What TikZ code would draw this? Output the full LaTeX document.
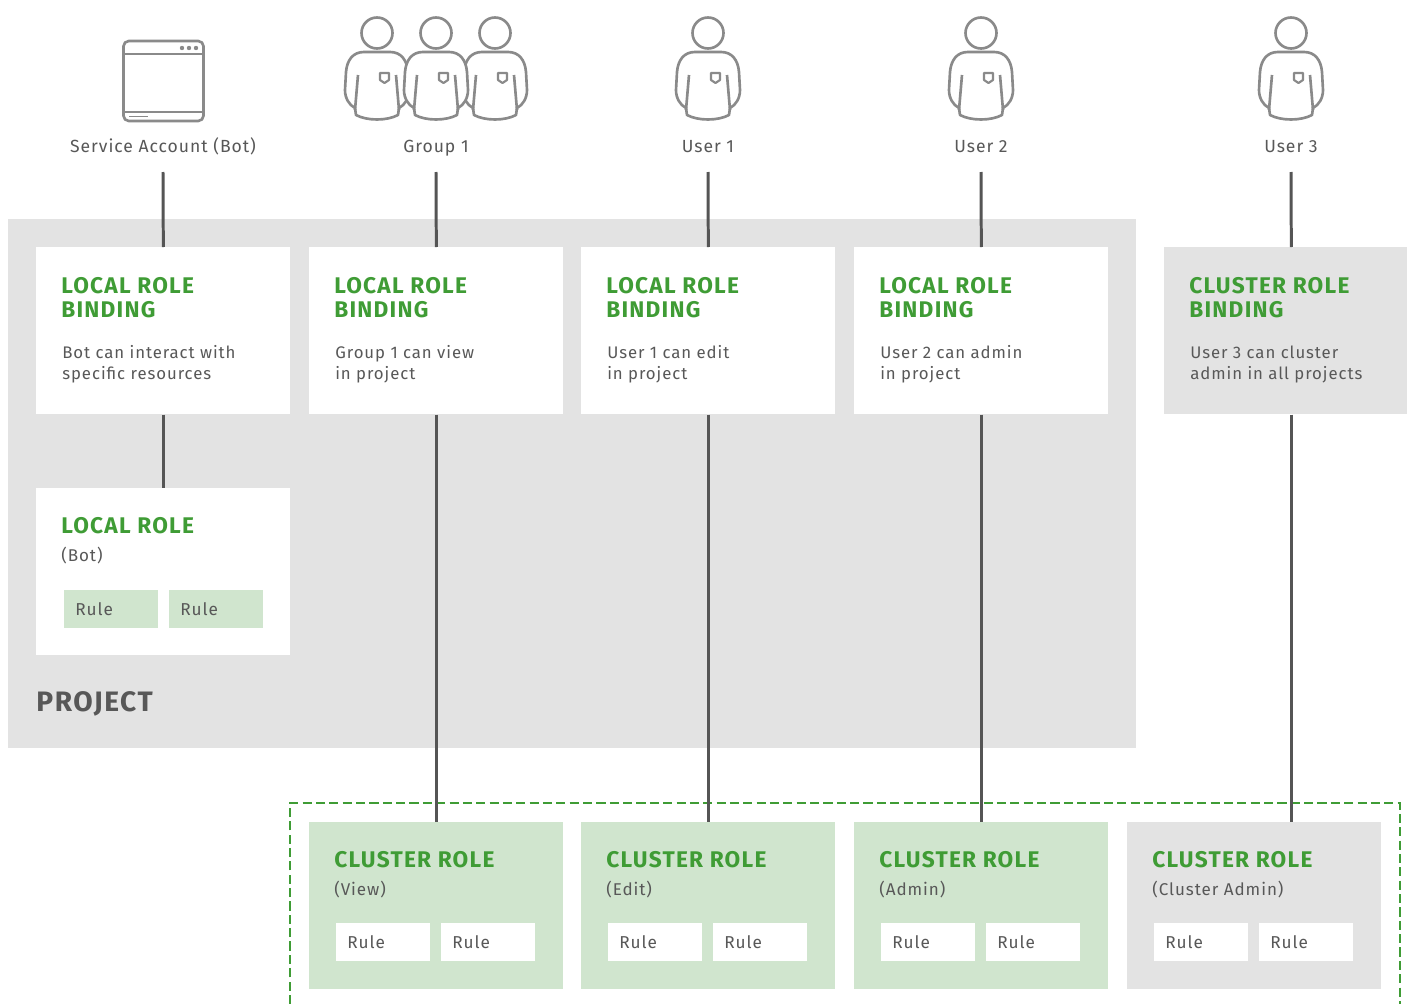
\documentclass[tikz,border=0pt]{standalone}
\usepackage{fontspec}
\setmainfont[LetterSpace=5.5]{Fira Sans}
\usepackage{tikz}
\definecolor{panelgray}{HTML}{E3E3E3}
\definecolor{palegreen}{HTML}{D0E5CE}
\definecolor{rolegreen}{HTML}{3F9C35}
\definecolor{textgray}{HTML}{585858}
\definecolor{linegray}{HTML}{555555}
\definecolor{icongray}{HTML}{8A8A8A}
\tikzset{
  panel/.style={anchor=north west, inner sep=0pt, minimum width=5.08cm, minimum height=3.34cm},
  rulebox/.style={anchor=north west, inner xsep=0.22cm, inner ysep=0pt, text width=1.44cm, align=left,
    minimum height=0.76cm, text=textgray, font=\fontsize{9.8}{12}\selectfont},
  head/.style={anchor=base west, inner sep=0pt, text=rolegreen, font=\fontsize{12.9}{14}\selectfont\bfseries},
  body/.style={anchor=base west, inner sep=0pt, text=textgray, font=\fontsize{9.7}{12}\selectfont},
  who/.style={anchor=base, inner sep=0pt, text=textgray, font=\fontsize{10}{12}\selectfont},
  say/.style={anchor=north west, inner sep=0pt, align=left, text=textgray, font=\fontsize{9.55}{11.9}\selectfont},
  wire/.style={draw=linegray, line width=1.7pt},
  icon/.style={draw=icongray, line width=1.5pt, line join=round},
  person/.pic={
    \draw[icon, fill=white] (0,33) circle (15.5);
    \draw[icon, fill=white] (-21,115) -- (-22,108) .. controls (-28,105) and (-32,98) .. (-32,90) -- (-31,72)
      .. controls (-30,60) and (-24,52) .. (-13,52) -- (13,52) .. controls (24,52) and (30,60) .. (31,72)
      -- (32,90) .. controls (32,98) and (28,105) .. (22,108) -- (21,115)
      .. controls (10,121) and (-10,121) .. (-21,115) -- cycle;
    \draw[icon] (-19,75) -- (-22,110);
    \draw[icon] (19,75) -- (22,110);
    \draw[icon, line width=1.2pt] (3,73) -- (12,73) -- (12,80) -- (7.5,83) -- (3,80) -- cycle;
  }
}
\begin{document}
\begin{tikzpicture}[x=0.02cm, y=-0.02cm]
\useasboundingbox (0,0) rectangle (1407,1004);
\clip (0,0) rectangle (1407,1004);
\fill[white] (0,0) rectangle (1407,1004);

% project area
\node[anchor=north west, inner sep=0pt, fill=panelgray, minimum width=22.56cm, minimum height=10.58cm] (project) at (8,219) {};
\node[anchor=base west, inner sep=0pt, text=textgray, font=\fontsize{16}{18}\selectfont\bfseries] (projectname) at (36,711) {PROJECT};

% dashed frame, open at the bottom
\draw[rolegreen, line width=1.45pt, dash pattern=on 5.2pt off 2.4pt] (290,1004) -- (290,803) -- (1400,803) -- (1400,1004);

% icons
\draw[icon, fill=white, rounded corners=3] (123.5,41) rectangle (203.5,121);
\draw[icon] (123.5,54) -- (203.5,54);
\draw[icon] (123.5,112) -- (203.5,112);
\draw[icon, line width=1pt] (129,116.5) -- (148,116.5);
\foreach \x in {182,189,196}
  \fill[icongray] (\x,48) circle (2.2);
\pic (member1) at (377,0) {person};
\pic (member3) at (495,0) {person};
\pic (member2) at (436,0) {person};
\pic (user1) at (708,0) {person};
\pic (user2) at (981,0) {person};
\pic (user3) at (1291,0) {person};

% who gets which binding
\foreach \n/\x/\name/\txt in {
  1/36/Service Account (Bot)/{Bot can interact with\\specific resources},
  2/309/Group 1/{Group 1 can view\\in project},
  3/581/User 1/{User 1 can edit\\in project},
  4/854/User 2/{User 2 can admin\\in project}}
{
  \node[panel, fill=white] (binding\n) at (\x,247) {};
  \node[head] (bindinghead\n) at (\x+25,293) {LOCAL ROLE};
  \node[head] (bindingsub\n) at (\x+25,317) {BINDING};
  \node[say] (bindingtext\n) at (\x+26,345) {\txt};
  \node[who] (name\n) at (\x+127,152) {\name};
  \coordinate (top\n) at (\x+127,172);
  \draw[wire] (top\n) -- (binding\n.north);
}
\node[panel, fill=panelgray] (binding5) at (1164,247) {};
\node[head] (bindinghead5) at (1189,293) {CLUSTER ROLE};
\node[head] (bindingsub5) at (1189,317) {BINDING};
\node[say] (bindingtext5) at (1190,346) {User 3 can cluster\\admin in all projects};
\node[who] (name5) at (1291,152) {User 3};
\coordinate (top5) at (1291,172);
\draw[wire] (top5) -- (binding5.north);

% local role
\node[panel, fill=white] (localrole) at (36,488) {};
\node[head] (localhead) at (61,533) {LOCAL ROLE};
\node[body] (localsub) at (61,561) {(Bot)};
\node[rulebox, fill=palegreen] (localrule1) at (64,590) {Rule};
\node[rulebox, fill=palegreen] (localrule2) at (169,590) {Rule};
\draw[wire] (binding1) -- (localrole);

% cluster roles
\foreach \n/\x/\kind/\col in {2/309/View/palegreen, 3/581/Edit/palegreen, 4/854/Admin/palegreen, 5/1127/Cluster Admin/panelgray}
{
  \node[panel, fill=\col] (cluster\n) at (\x,822) {};
  \node[head] (clusterhead\n) at (\x+25,867) {CLUSTER ROLE};
  \node[body] (clustersub\n) at (\x+25,895) {(\kind)};
  \node[rulebox, fill=white] (clusterrule\n a) at (\x+27,923) {Rule};
  \node[rulebox, fill=white] (clusterrule\n b) at (\x+132,923) {Rule};
}
\foreach \n in {2,3,4}
  \draw[wire] (binding\n) -- (cluster\n);
\coordinate (drop5) at (binding5.south);
\draw[wire] (drop5) -- (drop5 |- cluster5.north);
\end{tikzpicture}
\end{document}
